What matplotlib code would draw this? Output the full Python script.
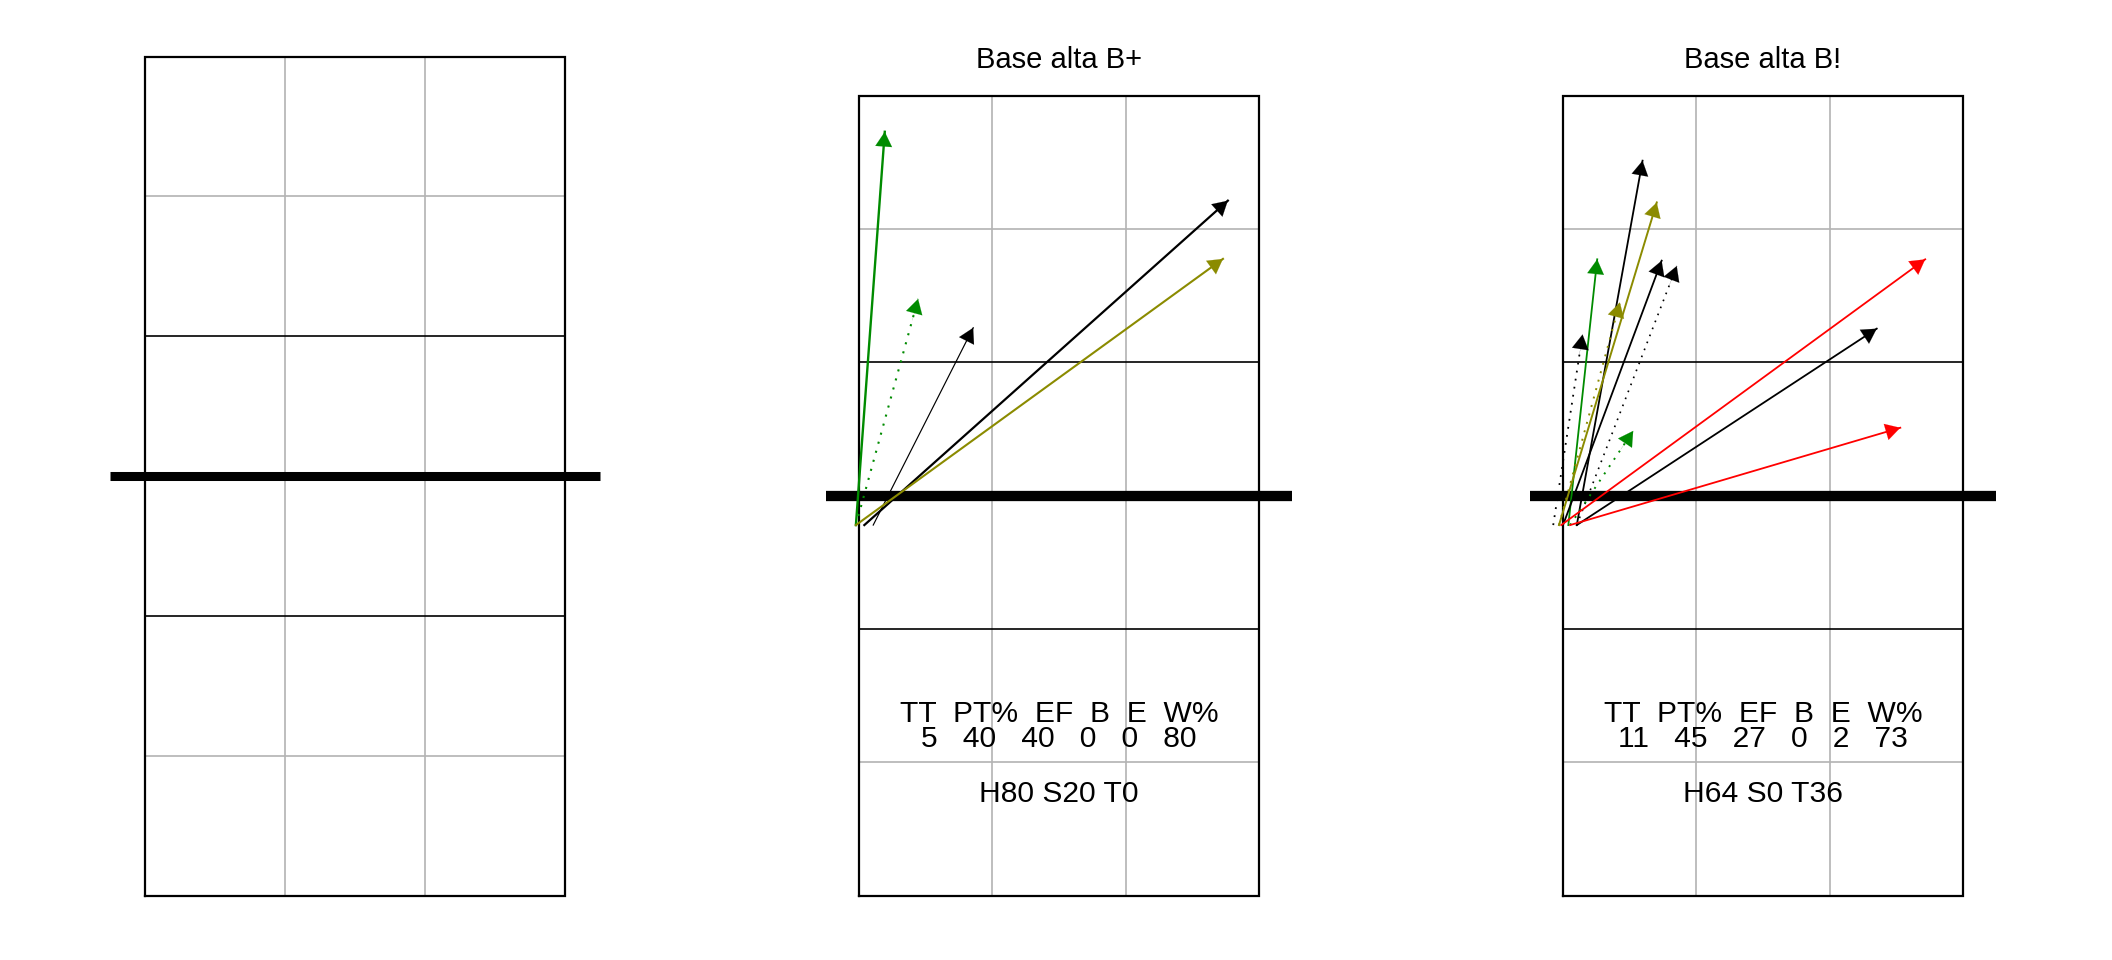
import numpy as np
import matplotlib.pyplot as plt
from matplotlib.patches import FancyArrowPatch, ArrowStyle

plt.rcParams['font.family'] = ['Liberation Sans', 'DejaVu Sans']

W, H, DPI = 2112, 960, 100

# court layout in metres (9 x 18, net at 9)
COURT_W, COURT_L, NET_Y = 9, 18, 9

stat_names = ["TT", "PT%", "EF", "B", "E", "W%"]

# --- Base alta B+ ---
bplus_title = "Base alta B+"
bplus_stats = [5, 40, 40, 0, 0, 80]
bplus_hst = [80, 20, 0]
bplus_x0 = [-0.07, -0.07, 0.32, 0.12, -0.07]
bplus_y0 = [8.34, 8.34, 8.34, 8.34, 8.34]
bplus_x1 = [0.58, 1.33, 2.57, 8.30, 8.19]
bplus_y1 = [17.19, 13.43, 12.78, 15.64, 14.33]
bplus_col = ["green4", "green4", "black", "black", "yellow4"]
bplus_ls = ["solid", "dotted", "solid", "solid", "solid"]
bplus_lw = [1.7, 1.5, 0.85, 1.6, 1.5]

# --- Base alta B! ---
bexcl_title = "Base alta B!"
bexcl_stats = [11, 45, 27, 0, 2, 73]
bexcl_hst = [64, 0, 36]
bexcl_x0 = [-0.22, 0.12, 0.31, -0.09, -0.09, 0.00, 0.31, 0.16, -0.04, 0.31, 0.16]
bexcl_y0 = [8.34] * 11
bexcl_x1 = [0.44, 0.77, 1.79, 2.11, 1.28, 2.22, 2.56, 1.58, 8.15, 7.06, 7.59]
bexcl_y1 = [12.63, 14.32, 16.54, 15.60, 13.35, 14.29, 14.17, 10.46, 14.32, 12.76, 10.53]
bexcl_col = ["black", "green4", "black", "yellow4", "yellow4", "black", "black",
             "green4", "red", "black", "red"]
bexcl_ls = ["dotted", "solid", "solid", "solid", "dotted", "solid", "dotted",
            "dotted", "solid", "solid", "solid"]
bexcl_lw = [1.3, 1.3, 1.3, 1.4, 1.4, 1.3, 1.2, 1.4, 1.3, 1.3, 1.3]

COLORS = {"green4": "#008B00", "yellow4": "#8B8B00", "red": "#FF0000", "black": "#000000"}
GRAY = "#B3B3B3"


def court_axes(fig, x0, y0, s):
    # x0, y0: pixel position of court corner (0, 0); s: pixels per metre
    xlim, ylim = (-1, 10), (-1, 19)
    left = x0 + xlim[0] * s
    right = x0 + xlim[1] * s
    bot = y0 - ylim[0] * s
    top = y0 - ylim[1] * s
    ax = fig.add_axes([left / W, 1 - bot / H, (right - left) / W, (bot - top) / H])
    ax.set_xlim(xlim)
    ax.set_ylim(ylim)
    ax.axis("off")
    return ax


def draw_court(ax, net_lw):
    for y in (3, 15):
        ax.plot([0, COURT_W], [y, y], color=GRAY, lw=1.2, zorder=1)
    for x in (3, 6):
        ax.plot([x, x], [0, COURT_L], color=GRAY, lw=1.2, zorder=1)
    for y in (6, 12):
        ax.plot([0, COURT_W], [y, y], color="black", lw=1.2, zorder=2)
    ax.plot([0, COURT_W, COURT_W, 0, 0], [0, 0, COURT_L, COURT_L, 0],
            color="black", lw=1.6, zorder=2, solid_joinstyle="miter")
    ax.plot([-0.75, COURT_W + 0.75], [NET_Y, NET_Y], color="black", lw=net_lw,
            solid_capstyle="butt", zorder=3)


def draw_arrows(ax, x0, y0, x1, y1, cols, styles, widths):
    head = ArrowStyle("-|>", head_length=10.5, head_width=6.0)
    for a, b, c, d, col, ls, lw in zip(x0, y0, x1, y1, cols, styles, widths):
        color = COLORS[col]
        dash = (0, (1, 3.5)) if ls == "dotted" else "-"
        ax.plot([a, c], [b, d], color=color, lw=lw, linestyle=dash, zorder=4)
        v = np.array([c - a, d - b])
        v = v / np.hypot(*v)
        back = (c - 0.5 * v[0], d - 0.5 * v[1])
        ax.add_patch(FancyArrowPatch(back, (c, d), arrowstyle=head, mutation_scale=1,
                                     color=color, lw=0.1, shrinkA=0, shrinkB=0, zorder=5))


def draw_stats(ax, title, stats, hst):
    ax.text(4.5, 18.62, title, ha="center", va="baseline", fontsize=21)
    ax.text(4.5, 3.915, "  ".join(stat_names), ha="center", va="baseline", fontsize=21.6)
    ax.text(4.5, 3.34, "   ".join(str(v) for v in stats), ha="center", va="baseline",
            fontsize=21.6)
    ax.text(4.5, 2.115, "H{} S{} T{}".format(*hst), ha="center", va="baseline",
            fontsize=21.6)


fig = plt.figure(figsize=(W / DPI, H / DPI), dpi=DPI)

ax1 = court_axes(fig, 145, 895.7, 46.62)
draw_court(ax1, 6.5)

ax2 = court_axes(fig, 859, 895.7, 44.44)
draw_court(ax2, 7.4)
draw_arrows(ax2, bplus_x0, bplus_y0, bplus_x1, bplus_y1, bplus_col, bplus_ls, bplus_lw)
draw_stats(ax2, bplus_title, bplus_stats, bplus_hst)

ax3 = court_axes(fig, 1563, 895.7, 44.44)
draw_court(ax3, 7.4)
draw_arrows(ax3, bexcl_x0, bexcl_y0, bexcl_x1, bexcl_y1, bexcl_col, bexcl_ls, bexcl_lw)
draw_stats(ax3, bexcl_title, bexcl_stats, bexcl_hst)

fig.savefig("out.png", dpi=DPI)
